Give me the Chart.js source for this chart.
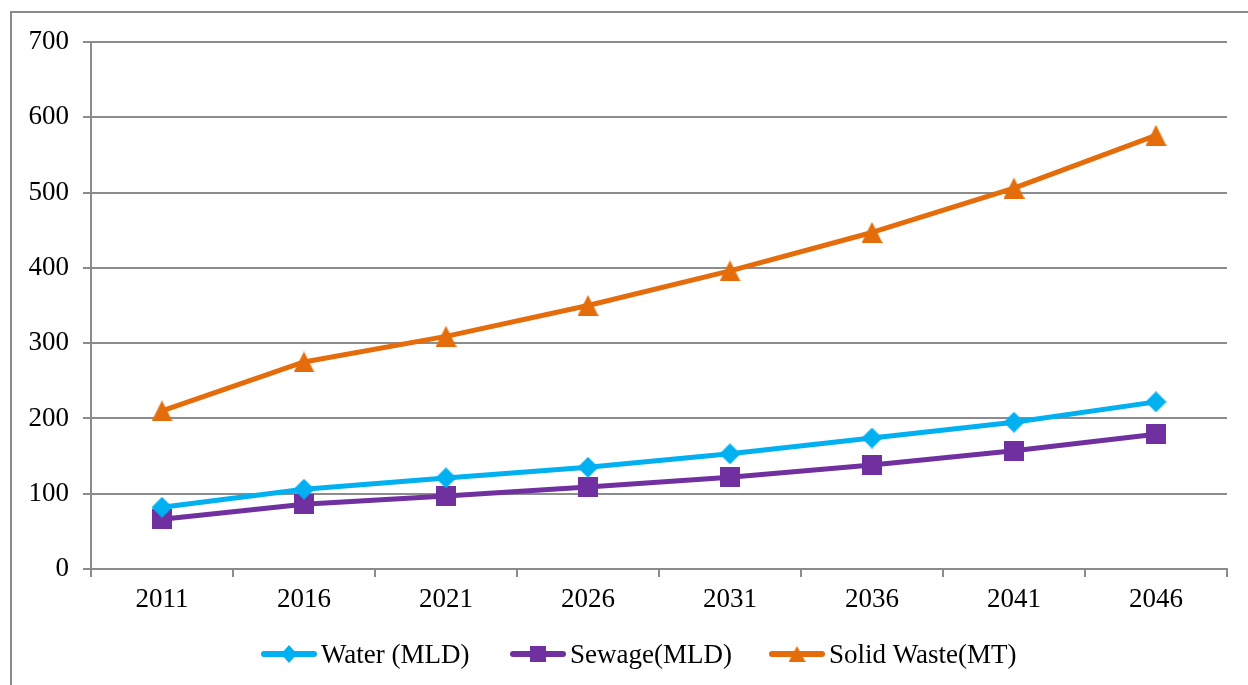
<!DOCTYPE html>
<html>
<head>
<meta charset="utf-8">
<script src="https://cdn.jsdelivr.net/npm/chart.js@4.4.1/dist/chart.umd.min.js"></script>
<style>
  html, body { margin: 0; padding: 0; background: #ffffff; }
  #wrap { width: 1248px; height: 685px; }
</style>
</head>
<body>
<div id="wrap"><canvas id="chart" width="1248" height="685"></canvas></div>
<script>
// Projected demand by year
const years = ['2011', '2016', '2021', '2026', '2031', '2036', '2041', '2046'];
const water = [82, 106, 121, 135, 153, 174, 195, 222];
const sewage = [66, 86, 97, 109, 122, 138, 157, 179];
const solidWaste = [210, 275, 309, 350, 396, 447, 506, 576];
const seriesNames = ['Water (MLD)', 'Sewage(MLD)', 'Solid Waste(MT)'];
const yTicks = [0, 100, 200, 300, 400, 500, 600, 700];

const COLORS = { water: '#00B0F0', sewage: '#7030A0', waste: '#E46C0A' };
const SERIF = "'Liberation Serif', 'Times New Roman', serif";
const GRID = '#8c8c8c';

// Marker sprites, centred on their bounding box
function makeMarker(shape, color, w, h) {
  const c = document.createElement('canvas');
  c.width = w; c.height = h;
  const g = c.getContext('2d');
  g.fillStyle = color;
  g.beginPath();
  if (shape === 'diamond') {
    g.moveTo(w / 2, 0); g.lineTo(w, h / 2); g.lineTo(w / 2, h); g.lineTo(0, h / 2);
  } else if (shape === 'square') {
    g.rect(0, 0, w, h);
  } else {
    g.moveTo(w / 2, 0); g.lineTo(w, h); g.lineTo(0, h);
  }
  g.closePath();
  g.fill();
  return c;
}

const markers = {
  water: makeMarker('diamond', COLORS.water, 21, 21),
  sewage: makeMarker('square', COLORS.sewage, 20, 20),
  waste: makeMarker('triangle', COLORS.waste, 21, 21)
};
const legendMarkers = [
  makeMarker('diamond', COLORS.water, 16, 18),
  makeMarker('square', COLORS.sewage, 16, 16),
  makeMarker('triangle', COLORS.waste, 17, 16)
];

// Outer frame of the chart object
const framePlugin = {
  id: 'frame',
  beforeDraw(chart) {
    const ctx = chart.ctx;
    ctx.save();
    ctx.fillStyle = '#ffffff';
    ctx.fillRect(0, 0, chart.width, chart.height);
    ctx.strokeStyle = '#8a8a8a';
    ctx.lineWidth = 2;
    ctx.strokeRect(11, 12, 1400, 800);
    ctx.restore();
  }
};

// Legend row: line sample with marker, then serif label
const legendPlugin = {
  id: 'lineLegend',
  afterDraw(chart) {
    const ctx = chart.ctx;
    const starts = [261, 510, 769];
    const y = 654;
    ctx.save();
    chart.data.datasets.forEach((ds, i) => {
      const x0 = starts[i];
      ctx.strokeStyle = ds.borderColor;
      ctx.lineWidth = 6;
      ctx.lineCap = 'round';
      ctx.beginPath();
      ctx.moveTo(x0 + 3, y);
      ctx.lineTo(x0 + 53, y);
      ctx.stroke();
      const m = legendMarkers[i];
      ctx.drawImage(m, x0 + 28 - m.width / 2, y - m.height / 2);
      ctx.fillStyle = '#000000';
      ctx.font = '27px ' + SERIF;
      ctx.textBaseline = 'alphabetic';
      ctx.textAlign = 'left';
      ctx.fillText(ds.label, x0 + 60, y + 9);
    });
    ctx.restore();
  }
};

function seriesDataset(label, data, color, marker) {
  return {
    label: label,
    data: data,
    borderColor: color,
    backgroundColor: color,
    borderWidth: 5,
    tension: 0,
    pointStyle: marker,
    pointRadius: 10,
    pointHoverRadius: 10,
    borderJoinStyle: 'round'
  };
}

new Chart(document.getElementById('chart'), {
  type: 'line',
  data: {
    labels: years,
    datasets: [
      seriesDataset(seriesNames[0], water, COLORS.water, markers.water),
      seriesDataset(seriesNames[1], sewage, COLORS.sewage, markers.sewage),
      seriesDataset(seriesNames[2], solidWaste, COLORS.waste, markers.waste)
    ]
  },
  options: {
    responsive: false,
    animation: false,
    events: [],
    layout: { padding: { left: 0, right: 21, top: 42, bottom: 0 } },
    plugins: {
      legend: { display: false },
      tooltip: { enabled: false }
    },
    scales: {
      x: {
        offset: true,
        grid: {
          offset: true,
          drawOnChartArea: false,
          drawTicks: true,
          tickLength: 8,
          color: GRID,
          lineWidth: 2
        },
        border: { display: true, color: GRID, width: 2 },
        ticks: {
          color: '#000000',
          padding: 7,
          maxRotation: 0,
          font: { family: SERIF, size: 27 }
        },
        afterFit(scale) { scale.height = 116; }
      },
      y: {
        min: 0,
        max: 700,
        afterBuildTicks(scale) { scale.ticks = yTicks.map(v => ({ value: v })); },
        grid: {
          color: GRID,
          lineWidth: 2,
          drawTicks: true,
          tickLength: 8
        },
        border: { display: true, color: GRID, width: 2 },
        ticks: {
          color: '#000000',
          padding: 14,
          font: { family: SERIF, size: 27 }
        },
        afterFit(scale) { scale.width = 91; }
      }
    }
  },
  plugins: [framePlugin, legendPlugin]
});
</script>
</body>
</html>
